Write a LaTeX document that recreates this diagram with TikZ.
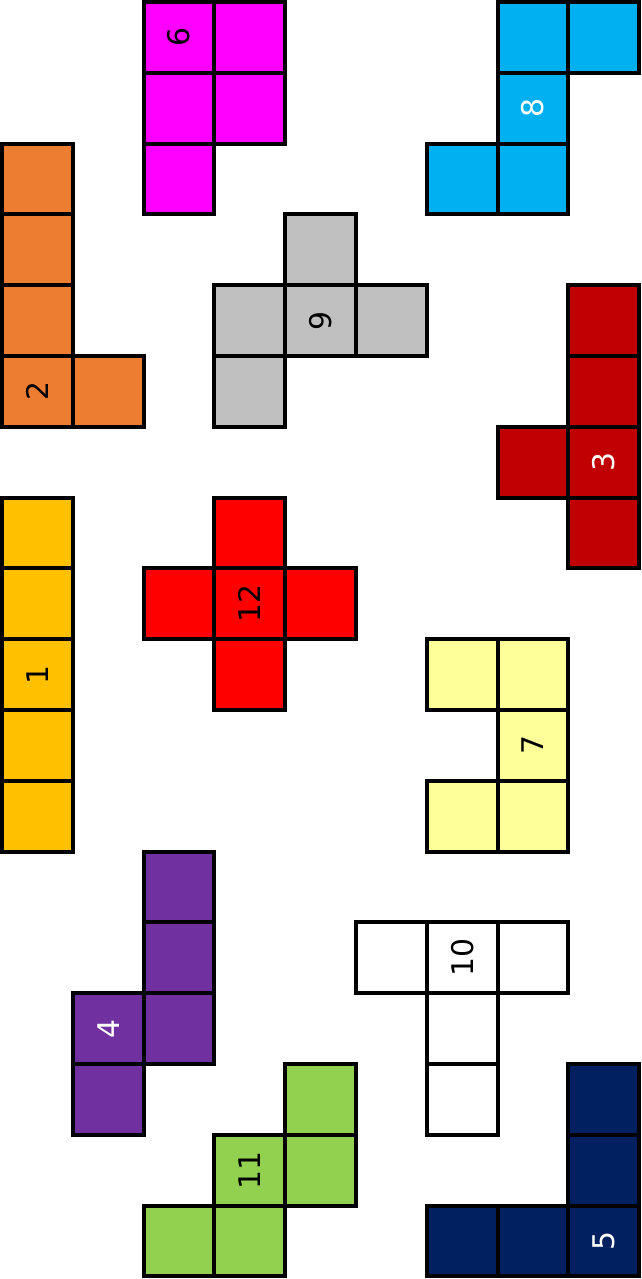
\documentclass[tikz,border=0pt]{standalone}
\usepackage{fontspec}
\setmainfont{DejaVu Sans}
\definecolor{pcorange}{HTML}{ED7D31}
\definecolor{pcgold}{HTML}{FFC000}
\definecolor{pcmagenta}{HTML}{FF00FF}
\definecolor{pcred}{HTML}{FF0000}
\definecolor{pcgray}{HTML}{C0C0C0}
\definecolor{pcblue}{HTML}{00B0F0}
\definecolor{pcdarkred}{HTML}{C00000}
\definecolor{pclight}{HTML}{FFFF99}
\definecolor{pcpurple}{HTML}{7030A0}
\definecolor{pcgreen}{HTML}{92D050}
\definecolor{pcnavy}{HTML}{002060}
\tikzset{
  cellbox/.style={draw=black, line width=1.6pt},
  num/.style={font=\fontsize{12}{14}\selectfont, rotate=90},
}
\begin{document}
\begin{tikzpicture}
\useasboundingbox (-0.028,0.028) rectangle (9.026,-18.037);
% Piece 2
\foreach \x/\y in {0/2,0/3,0/4,0/5,1/5}
  \filldraw[cellbox, fill=pcorange] (\x,-\y) rectangle ++(1,-1);
\node[num] (n2) at (0.5,-5.5) {2};
% Piece 6
\foreach \x/\y in {2/0,3/0,2/1,3/1,2/2}
  \filldraw[cellbox, fill=pcmagenta] (\x,-\y) rectangle ++(1,-1);
\node[num] (n6) at (2.5,-0.5) {6};
% Piece 1
\foreach \y in {7,...,11}
  \filldraw[cellbox, fill=pcgold] (0,-\y) rectangle ++(1,-1);
\node[num] (n1) at (0.5,-9.5) {1};
% Piece 12
\foreach \x/\y in {3/7,2/8,3/8,4/8,3/9}
  \filldraw[cellbox, fill=pcred] (\x,-\y) rectangle ++(1,-1);
\node[num] (n12) at (3.5,-8.5) {12};
% Piece 9
\foreach \x/\y in {3/4,3/5,4/3,4/4,5/4}
  \filldraw[cellbox, fill=pcgray] (\x,-\y) rectangle ++(1,-1);
\node[num] (n9) at (4.5,-4.5) {9};
% Piece 8
\foreach \x/\y in {7/0,8/0,7/1,7/2,6/2}
  \filldraw[cellbox, fill=pcblue] (\x,-\y) rectangle ++(1,-1);
\node[num, text=white] (n8) at (7.5,-1.5) {8};
% Piece 3
\foreach \x/\y in {8/4,8/5,8/6,8/7,7/6}
  \filldraw[cellbox, fill=pcdarkred] (\x,-\y) rectangle ++(1,-1);
\node[num, text=white] (n3) at (8.5,-6.5) {3};
% Piece 7
\foreach \x/\y in {7/9,7/10,7/11,6/9,6/11}
  \filldraw[cellbox, fill=pclight] (\x,-\y) rectangle ++(1,-1);
\node[num] (n7) at (7.5,-10.5) {7};
% Piece 4
\foreach \x/\y in {2/12,2/13,2/14,1/14,1/15}
  \filldraw[cellbox, fill=pcpurple] (\x,-\y) rectangle ++(1,-1);
\node[num, text=white] (n4) at (1.5,-14.5) {4};
% Piece 10
\foreach \x/\y in {5/13,6/13,7/13,6/14,6/15}
  \filldraw[cellbox, fill=white] (\x,-\y) rectangle ++(1,-1);
\node[num] (n10) at (6.5,-13.5) {10};
% Piece 11
\foreach \x/\y in {4/15,4/16,3/16,3/17,2/17}
  \filldraw[cellbox, fill=pcgreen] (\x,-\y) rectangle ++(1,-1);
\node[num] (n11) at (3.5,-16.5) {11};
% Piece 5
\foreach \x/\y in {8/15,8/16,8/17,7/17,6/17}
  \filldraw[cellbox, fill=pcnavy] (\x,-\y) rectangle ++(1,-1);
\node[num, text=white] (n5) at (8.5,-17.5) {5};
\end{tikzpicture}
\end{document}
